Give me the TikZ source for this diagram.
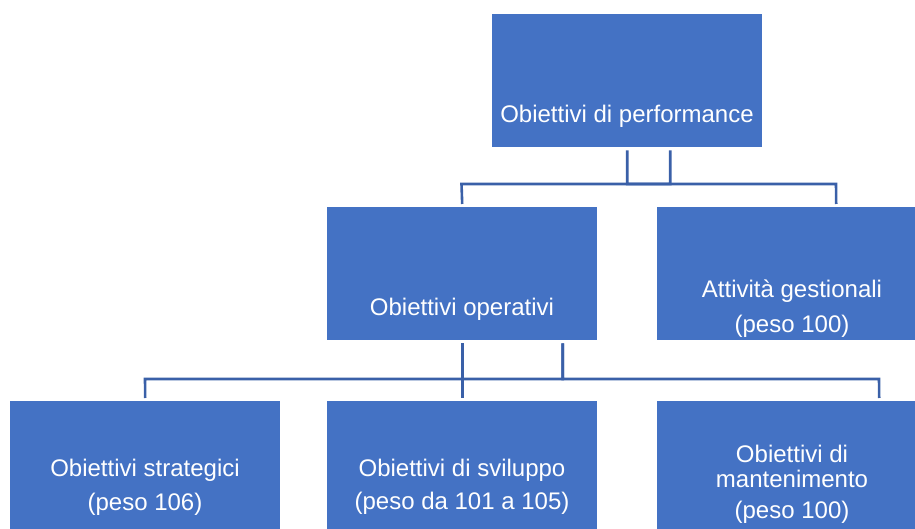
\documentclass[tikz,border=0pt]{standalone}
\usepackage{fontspec}
\setmainfont{Liberation Sans}
\definecolor{boxblue}{HTML}{4472C4}
\definecolor{lineblue}{HTML}{3A60A8}
\begin{document}
\begin{tikzpicture}[x=1pt,y=-1pt,
  box/.style={fill=boxblue, draw=none, anchor=north west, inner sep=0pt,
              minimum width=270pt, minimum height=133pt},
  lbl/.style={text=white, anchor=base, inner sep=0pt,
              font=\fontsize{24}{28}\selectfont},
  conn/.style={draw=lineblue, line width=2.6pt, line join=miter}]
\clip (0,0) rectangle (915,529);
% boxes
\node[box] (top)   at (492,14)  {};
\node[box] (oper)  at (327,207) {};
\node[box] (gest)  at (657,207) {};
\node[box] (strat) at (10,401)  {};
\node[box] (svil)  at (327,401) {};
\node[box] (mant)  at (657,401) {};
% labels
\node[lbl] (ttop)  at (627,123) {Obiettivi di performance};
\node[lbl] (toper) at (462,315) {Obiettivi operativi};
\node[lbl] (tgestA) at (792,297) {Attività gestionali};
\node[lbl] (tgestB) at (792,332) {(peso 100)};
\node[lbl] (tstratA) at (145,476) {Obiettivi strategici};
\node[lbl] (tstratB) at (145,510) {(peso 106)};
\node[lbl] (tsvilA) at (462,476) {Obiettivi di sviluppo};
\node[lbl] (tsvilB) at (462,509) {(peso da 101 a 105)};
\node[lbl] (tmantA) at (792,462) {Obiettivi di};
\node[lbl] (tmantB) at (792,487) {mantenimento};
\node[lbl] (tmantC) at (792,518) {(peso 100)};
% connectors
\draw[conn] ([xshift=43pt,yshift=-3pt]top.south) |- (461.5,184) -- ([yshift=3pt]oper.north);
\draw[conn] ([yshift=-3pt]top.south) |- (836,184) -- ([xshift=44pt,yshift=3pt]gest.north);
\draw[conn] ([yshift=-3pt]oper.south) -- ([yshift=3pt]svil.north);
\draw[conn] ([xshift=100.5pt,yshift=-3pt]oper.south) |- (145,379) -- ([yshift=3pt]strat.north);
\draw[conn] ([xshift=100.5pt,yshift=-3pt]oper.south) |- (879,379) -- ([xshift=87pt,yshift=3pt]mant.north);
\end{tikzpicture}
\end{document}
